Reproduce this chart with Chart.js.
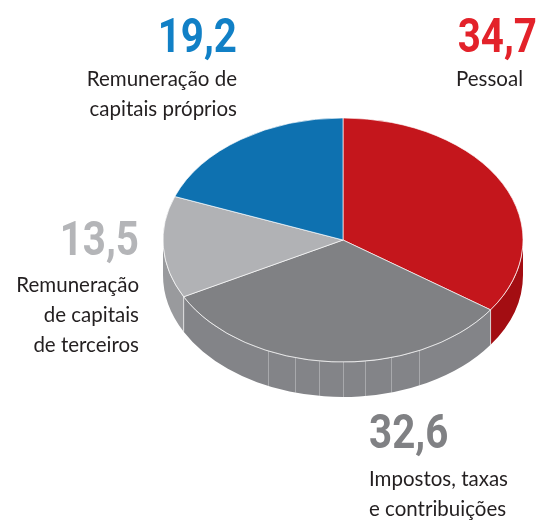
<!DOCTYPE html>
<html>
<head>
<meta charset="utf-8">
<script src="https://cdn.jsdelivr.net/npm/chart.js@4.4.1/dist/chart.umd.min.js"></script>
<style>
  html, body { margin: 0; padding: 0; background: #fff; }
  #wrap { width: 543px; height: 523px; }
</style>
</head>
<body>
<div id="wrap"><canvas id="c" width="543" height="523"></canvas></div>
<script>
// Distribution of value added (%)
const categories = [
  'Pessoal',
  'Impostos, taxas e contribuições',
  'Remuneração de capitais de terceiros',
  'Remuneração de capitais próprios'
];
const values = [34.7, 32.6, 13.5, 19.2];
const labelLines = [
  ['Pessoal'],
  ['Impostos, taxas', 'e contribuições'],
  ['Remuneração', 'de capitais', 'de terceiros'],
  ['Remuneração de', 'capitais próprios']
];
const topColors = ['#C4161C', '#808184', '#B1B2B5', '#0E71B0'];
const sideColors = ['#A30D12', '#838488', '#999A9D', '#0A5A8E'];
const valueColors = ['#E3222A', '#808184', '#B4B5B8', '#1180C6'];

// Tilt of the pie (vertical squash) and thickness of its wall
const TILT = 0.678;
const DEPTH = 35;
// Faint seams on the front wall (canvas angles, degrees)
const SEAMS = [65, 74.5, 83, 90, 97.7, 105.5, 114.6];

// Where each value/label block sits
const labelPlacement = [
  { align: 'right', numX: 537, numY: 52, textX: 523, textY: 86 },
  { align: 'left',  numX: 369, numY: 448, textX: 369, textY: 486 },
  { align: 'right', numX: 139, numY: 255, textX: 139, textY: 292 },
  { align: 'right', numX: 237, numY: 52, textX: 237, textY: 86 }
];

const fmt = v => v.toFixed(1).replace('.', ',');

const pie3d = {
  id: 'pie3d',
  beforeDatasetsDraw(chart) {
    const ctx = chart.ctx;
    const arcs = chart.getDatasetMeta(0).data;
    if (!arcs.length) return;
    const cx = arcs[0].x, cy = arcs[0].y, r = arcs[0].outerRadius;
    const ry = r * TILT;

    // front wall, one piece per slice where it faces the viewer
    arcs.forEach((arc, i) => {
      const a = Math.max(arc.startAngle, 0);
      const b = Math.min(arc.endAngle, Math.PI);
      if (b <= a) return;
      ctx.save();
      ctx.beginPath();
      ctx.ellipse(cx, cy, r, ry, 0, a, b, false);
      ctx.ellipse(cx, cy + DEPTH, r, ry, 0, b, a, true);
      ctx.closePath();
      ctx.fillStyle = sideColors[i];
      ctx.fill();
      ctx.restore();
    });

    // slice edges running down the wall
    ctx.save();
    ctx.lineWidth = 1;
    arcs.forEach((arc) => {
      [arc.startAngle, arc.endAngle].forEach(t => {
        if (t > 0 && t < Math.PI) {
          const x = cx + r * Math.cos(t), y = cy + ry * Math.sin(t);
          ctx.strokeStyle = 'rgba(255,255,255,0.35)';
          ctx.beginPath();
          ctx.moveTo(x, y);
          ctx.lineTo(x, y + DEPTH);
          ctx.stroke();
        }
      });
    });
    ctx.strokeStyle = 'rgba(255,255,255,0.3)';
    SEAMS.forEach(d => {
      const t = d * Math.PI / 180;
      const x = Math.round(cx + r * Math.cos(t)) + 0.5, y = cy + ry * Math.sin(t);
      ctx.beginPath();
      ctx.moveTo(x, y);
      ctx.lineTo(x, y + DEPTH);
      ctx.stroke();
    });
    ctx.restore();

    // squash the top face
    ctx.save();
    ctx.translate(cx, cy);
    ctx.scale(1, TILT);
    ctx.translate(-cx, -cy);
  },
  afterDatasetsDraw(chart) {
    const ctx = chart.ctx;
    ctx.restore();
    const arcs = chart.getDatasetMeta(0).data;
    if (!arcs.length) return;
    const cx = arcs[0].x, cy = arcs[0].y, r = arcs[0].outerRadius;
    // light rim along the front top edge
    ctx.save();
    ctx.strokeStyle = 'rgba(255,255,255,0.35)';
    ctx.lineWidth = 0.8;
    ctx.beginPath();
    ctx.ellipse(cx, cy, r, r * TILT, 0, 0.05, Math.PI - 0.05, false);
    ctx.stroke();
    ctx.restore();
  },
  afterDraw(chart) {
    const ctx = chart.ctx;
    ctx.save();
    values.forEach((v, i) => {
      const p = labelPlacement[i];
      ctx.textAlign = p.align;
      ctx.textBaseline = 'alphabetic';
      // big value
      ctx.save();
      ctx.translate(p.numX, p.numY);
      ctx.scale(0.84, 1);
      ctx.font = 'bold 48px Roboto';
      ctx.fillStyle = valueColors[i];
      ctx.fillText(fmt(v), 0, 0);
      ctx.restore();
      // category text
      ctx.font = '20.5px Lato';
      ctx.fillStyle = '#231F20';
      labelLines[i].forEach((line, j) => {
        ctx.fillText(line, p.textX, p.textY + j * 30);
      });
    });
    ctx.restore();
  }
};

new Chart(document.getElementById('c'), {
  type: 'pie',
  data: {
    labels: categories,
    datasets: [{
      data: values,
      backgroundColor: topColors,
      borderColor: '#ffffff',
      borderWidth: 0.8,
      hoverOffset: 0,
      radius: 180
    }]
  },
  options: {
    responsive: false,
    animation: false,
    events: [],
    layout: { padding: { left: 143, right: 0, top: 20, bottom: 63 } },
    plugins: {
      legend: { display: false },
      tooltip: { enabled: false }
    }
  },
  plugins: [pie3d]
});
</script>
</body>
</html>
